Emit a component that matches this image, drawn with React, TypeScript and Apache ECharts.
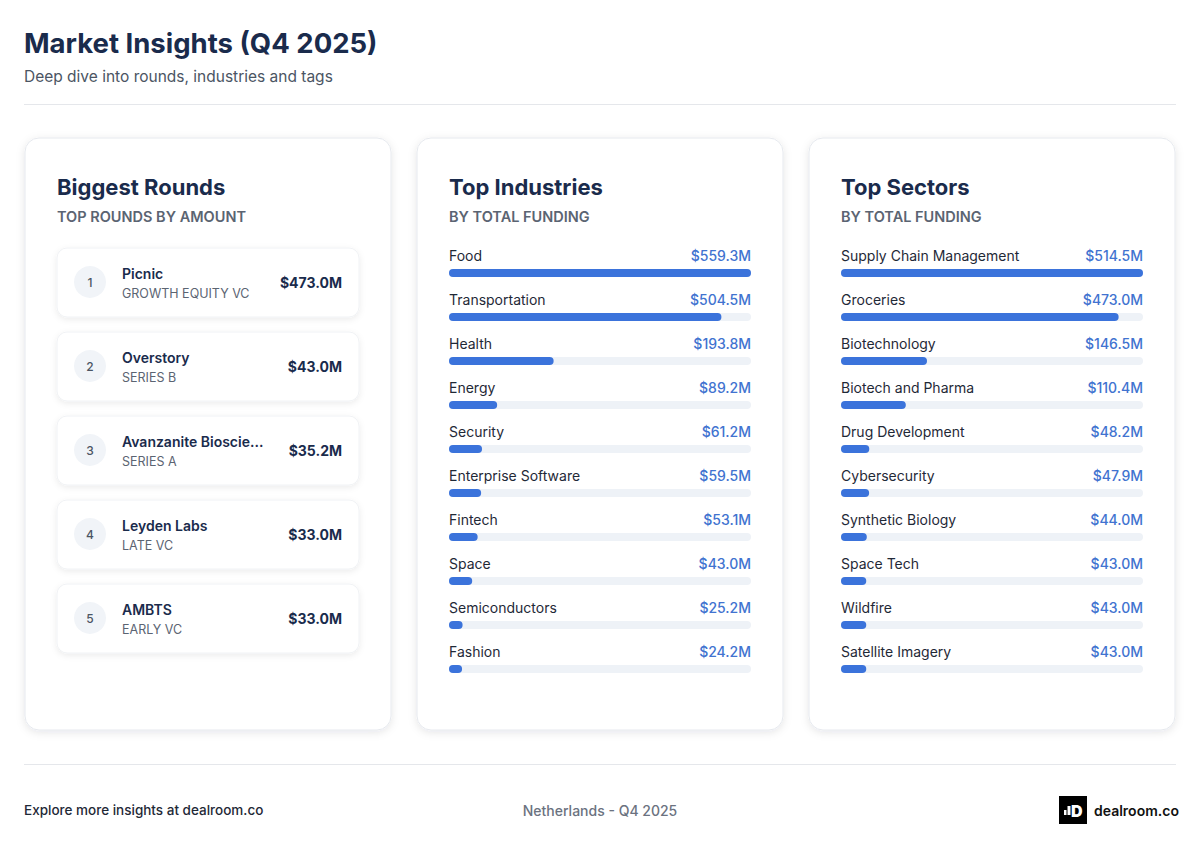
import React, { useEffect, useRef } from "react";
import * as echarts from "echarts";

const roundNames = ["Picnic", "Overstory", "Avanzanite Bioscie...", "Leyden Labs", "AMBTS"];
const roundTypes = ["GROWTH EQUITY VC", "SERIES B", "SERIES A", "LATE VC", "EARLY VC"];
const roundAmounts = [473.0, 43.0, 35.2, 33.0, 33.0];

const industries = ["Food", "Transportation", "Health", "Energy", "Security", "Enterprise Software", "Fintech", "Space", "Semiconductors", "Fashion"];
const industryValues = [559.3, 504.5, 193.8, 89.2, 61.2, 59.5, 53.1, 43.0, 25.2, 24.2];

const sectors = ["Supply Chain Management", "Groceries", "Biotechnology", "Biotech and Pharma", "Drug Development", "Cybersecurity", "Synthetic Biology", "Space Tech", "Wildfire", "Satellite Imagery"];
const sectorValues = [514.5, 473.0, 146.5, 110.4, 48.2, 47.9, 44.0, 43.0, 43.0, 43.0];

const FONT = "Inter, 'Noto Sans', sans-serif";
const NAVY = "#1a2b4c";
const GRAY = "#4b5563";
const BLUE = "#3b73db";
const TRACK = "#eef2f7";

const fmt = (v: number) => "$" + v.toFixed(1) + "M";

export default function App() {
  const ref = useRef<HTMLDivElement>(null);
  useEffect(() => {
    if (!ref.current) return;
    const chart = echarts.init(ref.current, null, { renderer: "svg" });

    const graphic: any[] = [];
    // header
    graphic.push({ type: "text", x: 24, y: 43, style: { text: "Market Insights (Q4 2025)", font: `700 27.5px ${FONT}`, fill: NAVY, verticalAlign: "middle" } });
    graphic.push({ type: "text", x: 24, y: 76, style: { text: "Deep dive into rounds, industries and tags", font: `400 15.5px ${FONT}`, fill: GRAY, verticalAlign: "middle" } });
    graphic.push({ type: "line", shape: { x1: 24, y1: 104.5, x2: 1176, y2: 104.5 }, style: { stroke: "#e5e7eb", lineWidth: 1 } });

    // cards
    const cardX = [25, 417, 809];
    const titles = ["Biggest Rounds", "Top Industries", "Top Sectors"];
    const subs = ["TOP ROUNDS BY AMOUNT", "BY TOTAL FUNDING", "BY TOTAL FUNDING"];
    cardX.forEach((x, i) => {
      graphic.push({
        type: "rect", z: 0,
        shape: { x, y: 138, width: 366, height: 592, r: 14 },
        style: { fill: "#ffffff", stroke: "#e6e9ee", lineWidth: 1, shadowBlur: 8, shadowOffsetY: 2, shadowColor: "rgba(15,23,42,0.10)" },
      });
      graphic.push({ type: "text", z: 2, x: x + 32, y: 187, style: { text: titles[i], font: `700 22px ${FONT}`, fill: NAVY, verticalAlign: "middle" } });
      graphic.push({ type: "text", z: 2, x: x + 32, y: 216, style: { text: subs[i], font: `600 14.5px ${FONT}`, fill: "#5b6472", verticalAlign: "middle" } });
    });

    // rounds list
    roundNames.forEach((name, i) => {
      const y = 248 + i * 84;
      graphic.push({
        type: "rect", z: 1,
        shape: { x: 57, y, width: 302, height: 69, r: 10 },
        style: { fill: "#ffffff", stroke: "#f0f2f5", lineWidth: 1, shadowBlur: 6, shadowOffsetY: 2, shadowColor: "rgba(15,23,42,0.08)" },
      });
      graphic.push({ type: "circle", z: 2, shape: { cx: 90, cy: y + 34, r: 16 }, style: { fill: "#f1f4f8" } });
      graphic.push({ type: "text", z: 3, x: 90, y: y + 34, style: { text: String(i + 1), font: `500 12px ${FONT}`, fill: GRAY, align: "center", verticalAlign: "middle" } });
      graphic.push({ type: "text", z: 3, x: 122, y: y + 25, style: { text: name, font: `600 14px ${FONT}`, fill: NAVY, verticalAlign: "middle" } });
      graphic.push({ type: "text", z: 3, x: 122, y: y + 45, style: { text: roundTypes[i], font: `400 12.5px ${FONT}`, fill: "#5b6472", verticalAlign: "middle" } });
      graphic.push({ type: "text", z: 3, x: 342, y: y + 34, style: { text: fmt(roundAmounts[i]), font: `700 14px ${FONT}`, fill: NAVY, align: "right", verticalAlign: "middle" } });
    });

    // footer
    graphic.push({ type: "line", shape: { x1: 24, y1: 764.5, x2: 1176, y2: 764.5 }, style: { stroke: "#e5e7eb", lineWidth: 1 } });
    graphic.push({ type: "text", x: 24, y: 810, style: { text: "Explore more insights at dealroom.co", font: `500 13.5px ${FONT}`, fill: "#1f2937", verticalAlign: "middle" } });
    graphic.push({ type: "text", x: 600, y: 810, style: { text: "Netherlands - Q4 2025", font: `500 14px ${FONT}`, fill: "#6b7280", align: "center", verticalAlign: "middle" } });
    graphic.push({ type: "rect", shape: { x: 1059, y: 796, width: 28, height: 28 }, style: { fill: "#000000" } });
    graphic.push({ type: "rect", shape: { x: 1064, y: 810, width: 2.5, height: 5 }, style: { fill: "#ffffff" } });
    graphic.push({ type: "rect", shape: { x: 1067.5, y: 806, width: 3, height: 9 }, style: { fill: "#ffffff" } });
    graphic.push({ type: "text", x: 1071, y: 811, style: { text: "D", font: `900 16px ${FONT}`, fill: "#ffffff", verticalAlign: "middle" } });
    graphic.push({ type: "text", x: 1094, y: 810, style: { text: "dealroom.co", font: `600 14px ${FONT}`, fill: "#111111", verticalAlign: "middle" } });

    const grids = [
      { left: 449, top: 251, width: 302, height: 440 },
      { left: 841, top: 251, width: 302, height: 440 },
    ];
    const sets = [
      { names: industries, values: industryValues },
      { names: sectors, values: sectorValues },
    ];

    const series: any[] = [];
    sets.forEach((s, gi) => {
      const max = Math.max(...s.values);
      series.push({
        type: "bar", xAxisIndex: gi, yAxisIndex: gi, barWidth: 8, barGap: "-100%", silent: true, z: 2,
        data: s.values.map(() => max),
        itemStyle: { color: TRACK, borderRadius: 4 },
        label: {
          show: true, position: ["100%", -14], align: "right", verticalAlign: "middle",
          formatter: (p: any) => fmt(s.values[p.dataIndex]),
          fontFamily: FONT, fontSize: 14, fontWeight: 500, color: "#4173d0",
        },
      });
      series.push({
        type: "bar", xAxisIndex: gi, yAxisIndex: gi, barWidth: 8, barGap: "-100%", silent: true, z: 3,
        data: s.values,
        itemStyle: { color: BLUE, borderRadius: 4 },
        label: {
          show: true, position: [0, -14], align: "left", verticalAlign: "middle",
          formatter: (p: any) => s.names[p.dataIndex],
          fontFamily: FONT, fontSize: 14, fontWeight: 400, color: "#1f2937",
        },
      });
    });

    chart.setOption({
      animation: false,
      backgroundColor: "#ffffff",
      grid: grids,
      xAxis: sets.map((s, gi) => ({ type: "value", gridIndex: gi, min: 0, max: Math.max(...s.values), show: false })),
      yAxis: sets.map((s, gi) => ({ type: "category", gridIndex: gi, data: s.names, inverse: true, show: false })),
      series,
      graphic,
    });
    return () => chart.dispose();
  }, []);
  return <div ref={ref} style={{ position: "absolute", left: 0, top: 0, width: 1200, height: 848, background: "#fff" }} />;
}
